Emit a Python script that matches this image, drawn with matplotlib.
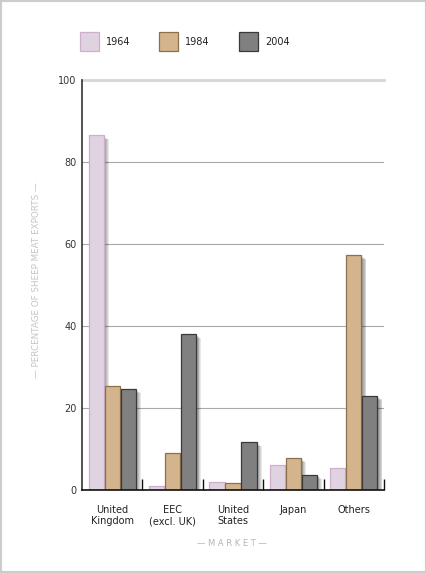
import matplotlib
matplotlib.use("Agg")
import matplotlib.pyplot as plt
import matplotlib.patheffects as pe
from matplotlib.patches import Rectangle
import numpy as np

categories = ["United\nKingdom", "EEC\n(excl. UK)", "United\nStates", "Japan", "Others"]
years = ["1964", "1984", "2004"]
v1964 = [86.5, 1.0, 2.0, 6.0, 5.4]
v1984 = [25.3, 9.0, 1.7, 7.8, 57.2]
v2004 = [24.6, 38.0, 11.6, 3.7, 22.9]
yticks = [0, 20, 40, 60, 80, 100]

series = [v1964, v1984, v2004]
faces = ["#dfd3e1", "#d4b48c", "#808080"]
edges = ["#cdaecb", "#8c6f4c", "#3a3a3a"]

W, H = 427, 573
fig = plt.figure(figsize=(W / 100, H / 100), dpi=100)
fig.patch.set_facecolor("white")

ax = fig.add_axes([82 / W, 1 - 490 / H, (384 - 82) / W, (490 - 80) / H])
ax.set_xlim(-0.5, len(categories) - 0.5)
ax.set_ylim(0, 100)

# grid
for t in yticks[1:-1]:
    ax.axhline(t, color="#a8a8a8", lw=0.8, zorder=1)
ax.axhline(100, color="#d6d6d6", lw=2.0, zorder=1, clip_on=False)

x = np.arange(len(categories))
bw = 0.25
step = 0.265
shadow = [pe.SimplePatchShadow(offset=(k, -0.8 * k), shadow_rgbFace="#000000", alpha=0.09)
          for k in (3.6, 3.0, 2.4, 1.8, 1.2, 0.6)] + [pe.Normal()]
for i, (vals, fc, ec) in enumerate(zip(series, faces, edges)):
    bars = ax.bar(x + (i - 1) * step, vals, width=bw, color=fc, edgecolor=ec,
                  linewidth=0.9, zorder=3)
    for b in bars:
        b.set_path_effects(shadow)

# group separators
ax.vlines(np.arange(len(categories)) + 0.5, 0, 2.7, color="#111111", lw=1.0, zorder=4,
          clip_on=False)

for s in ["top", "right"]:
    ax.spines[s].set_visible(False)
ax.spines["left"].set_color("#333333")
ax.spines["left"].set_linewidth(1.2)
ax.spines["bottom"].set_color("#111111")
ax.spines["bottom"].set_linewidth(1.2)
ax.spines["bottom"].set_zorder(5)

ax.set_yticks(yticks)
ax.set_yticklabels([str(t) for t in yticks], fontsize=7, color="#333333")
ax.tick_params(axis="y", length=0, pad=4)
ax.set_xticks(x)
ax.set_xticklabels(categories, fontsize=7, color="#222222", linespacing=1.15)
ax.tick_params(axis="x", length=0, pad=11)

fig.text(37 / W, 1 - 280 / H, "— PERCENTAGE OF SHEEP MEAT EXPORTS —", rotation=90,
         ha="center", va="center", fontsize=6.3, color="#c4c4c4")
fig.text(232 / W, 1 - 543 / H, "— M A R K E T —", ha="center", va="center",
         fontsize=6, color="#b5b5b5")

# legend
lx = [80, 159, 239]
for xx, yr, fc, ec in zip(lx, years, faces, edges):
    fig.add_artist(Rectangle((xx / W, 1 - 51 / H), 19 / W, 19 / H, transform=fig.transFigure,
                             facecolor=fc, edgecolor=ec, lw=0.9))
    fig.text((xx + 26) / W, 1 - 42 / H, yr, ha="left", va="center", fontsize=7, color="#222222")

# frame
fig.add_artist(Rectangle((0, 0), 1, 1, transform=fig.transFigure, facecolor="none",
                         edgecolor="#cccccc", lw=3.0, joinstyle="miter"))

fig.savefig("out.png", dpi=100, facecolor="white")
